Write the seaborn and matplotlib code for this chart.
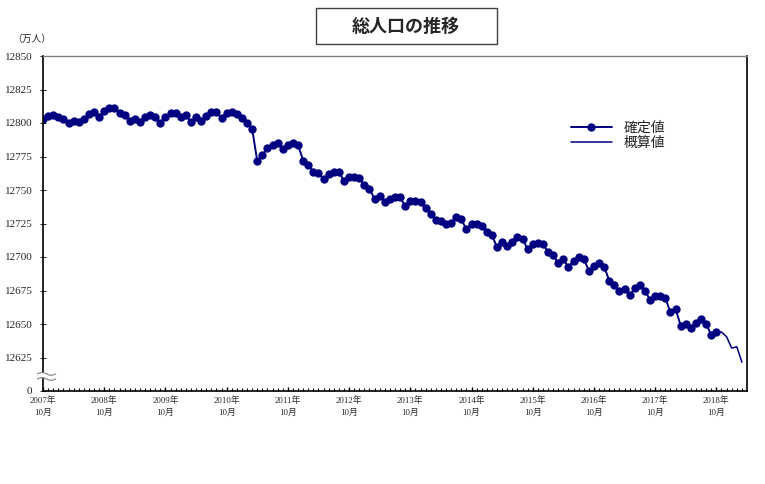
import numpy as np
import pandas as pd
import matplotlib
matplotlib.use("Agg")
import matplotlib.pyplot as plt
import seaborn as sns
from matplotlib.patches import Rectangle, Polygon

# ---- data (万人) ----
confirmed = [
    12803.3, 12805.5, 12805.7, 12804.2, 12803.0, 12799.7, 12801.5, 12800.5, 12803.2, 12806.7,
    12808.5, 12804.7, 12809.0, 12811.4, 12811.0, 12807.7, 12806.0, 12801.7, 12802.7, 12800.5,
    12804.2, 12806.0, 12804.7, 12800.2, 12804.2, 12807.2, 12807.2, 12804.2, 12806.0, 12800.5,
    12804.2, 12801.7, 12805.2, 12808.0, 12808.0, 12803.5, 12807.2, 12808.0, 12806.7, 12804.0,
    12799.7, 12795.5, 12771.6, 12776.1, 12781.1, 12783.6, 12784.8, 12780.3, 12783.6, 12784.8,
    12783.6, 12771.9, 12768.6, 12763.7, 12762.4, 12758.2, 12761.9, 12763.7, 12763.7, 12756.7,
    12759.9, 12759.9, 12758.7, 12753.7, 12750.7, 12743.3, 12745.5, 12741.3, 12743.3, 12744.5,
    12744.5, 12738.1, 12741.8, 12741.8, 12740.8, 12736.3, 12732.0, 12727.6, 12727.1, 12724.6,
    12725.6, 12729.6, 12728.1, 12720.7, 12724.6, 12724.6, 12723.4, 12718.4, 12716.4, 12707.2,
    12711.4, 12708.5, 12711.4, 12714.7, 12713.4, 12706.0, 12709.7, 12710.7, 12709.7, 12703.5,
    12701.5, 12695.3, 12698.3, 12692.3, 12697.3, 12699.7, 12698.5, 12689.8, 12693.5, 12695.3,
    12692.8, 12682.3, 12679.1, 12674.9, 12676.1, 12671.6, 12676.6, 12679.1, 12674.9, 12667.9,
    12671.1, 12671.1, 12669.2, 12658.7, 12661.2, 12648.8, 12650.0, 12646.8, 12651.0, 12653.7,
    12650.0, 12641.8, 12644.3,
]
provisional = [12644.3, 12644.0, 12640.5, 12632.0, 12633.0, 12621.5]
years = [2007, 2008, 2009, 2010, 2011, 2012, 2013, 2014, 2015, 2016, 2017, 2018]
year_labels = [f"{y}年\n10月" for y in years]
y_ticks = [12600, 12625, 12650, 12675, 12700, 12725, 12750, 12775, 12800, 12825, 12850]
y_tick_labels = ["0"] + [str(v) for v in y_ticks[1:]]

df_c = pd.DataFrame({"m": np.arange(len(confirmed)), "v": confirmed})
start = len(confirmed) - 1
df_p = pd.DataFrame({"m": np.arange(start, start + len(provisional)), "v": provisional})

# ---- figure ----
sns.set_theme(style="white")
plt.rcParams["font.family"] = ["Liberation Serif", "Noto Sans CJK JP", "DejaVu Sans"]

W, H = 765, 484
fig = plt.figure(figsize=(W / 100, H / 100), dpi=100)
L, R, T, B = 43, 747, 56, 391
ax = fig.add_axes([L / W, 1 - B / H, (R - L) / W, (B - T) / H])

navy = "#000080"
sns.lineplot(data=df_c, x="m", y="v", ax=ax, color=navy, lw=1.4,
             marker="o", markersize=6, markeredgewidth=0, label="確定値")
sns.lineplot(data=df_p, x="m", y="v", ax=ax, color=navy, lw=1.1, label="概算値")

ax.set_xlim(0, 138)
ax.set_ylim(12600, 12850)
ax.set_xlabel("")
ax.set_ylabel("")

ax.set_yticks(y_ticks)
ax.set_yticklabels(y_tick_labels, fontsize=8)
ax.set_xticks([12 * i for i in range(len(years))])
ax.set_xticklabels(year_labels, fontsize=6.3, linespacing=1.6,
                   family=["Liberation Serif", "Noto Sans CJK JP"])
ax.set_xticks(np.arange(0, 138), minor=True)
ax.tick_params(axis="y", which="major", direction="inout", length=5, width=0.6,
               color="black", pad=5, left=True)
ax.tick_params(axis="x", which="major", direction="in", length=3, width=1.0,
               color="black", pad=4, bottom=True)
ax.tick_params(axis="x", which="minor", direction="in", length=2, width=0.8,
               color="black", bottom=True)
ax.grid(False)

for s in ["left", "bottom", "right"]:
    ax.spines[s].set_color("black")
    ax.spines[s].set_linewidth(1.2)
ax.spines["top"].set_color("#808080")
ax.spines["top"].set_linewidth(1.0)

# axis break mark
xs = np.linspace(-0.008, 0.018, 30)
wave = 0.004 * np.sin((xs - xs[0]) / (xs[-1] - xs[0]) * 2 * np.pi)
y1, y2 = 0.051, 0.036
poly = Polygon(np.column_stack([np.r_[xs, xs[::-1]], np.r_[y1 + wave, (y2 + wave)[::-1]]]),
               closed=True, facecolor="white", edgecolor="none",
               transform=ax.transAxes, clip_on=False, zorder=5)
ax.add_patch(poly)
ax.plot(xs, y1 + wave, color="#808080", lw=0.8, transform=ax.transAxes, clip_on=False, zorder=6)
ax.plot(xs, y2 + wave, color="#808080", lw=0.8, transform=ax.transAxes, clip_on=False, zorder=6)

# unit label
fig.text(12 / W, 1 - 39 / H, "（万人）", fontsize=7, va="center", ha="left",
         family=["Noto Sans CJK JP"])

# legend
leg = ax.legend(loc="upper left", bbox_to_anchor=(558 / W, 1 - 108 / H),
                bbox_transform=fig.transFigure, frameon=False,
                handlelength=3.0, handletextpad=0.8, labelspacing=0.1,
                prop={"family": ["Noto Sans CJK JP"], "size": 10})

# title box
fig.patches.append(Rectangle((316 / W, 1 - 44 / H), 181 / W, 36 / H,
                             transform=fig.transFigure, facecolor="white",
                             edgecolor="#404040", lw=1.0))
fig.text(406 / W, 1 - 26 / H, "総人口の推移", fontsize=13, fontweight="bold",
         ha="center", va="center", family=["Noto Sans CJK JP"])

fig.savefig("out.png", dpi=100, facecolor="white")
